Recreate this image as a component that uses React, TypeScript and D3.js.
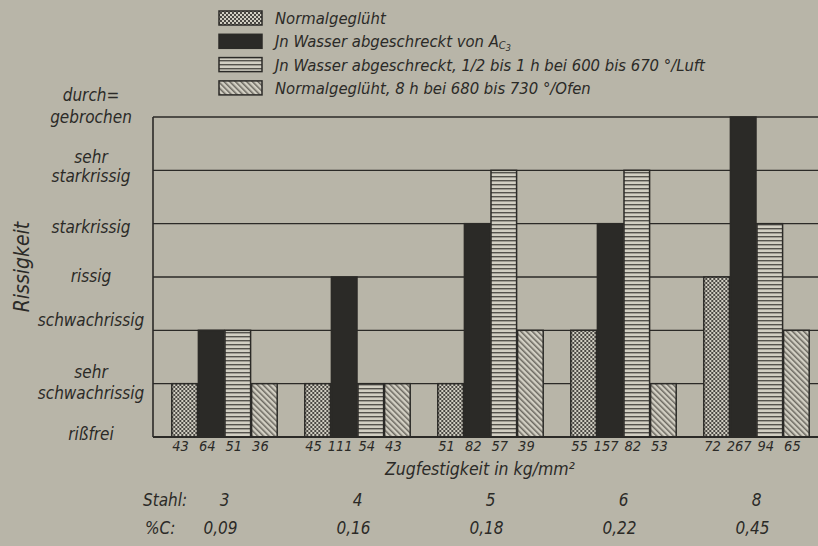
import React from "react";
import * as d3 from "d3";

const steels = ["3", "4", "5", "6", "8"];
const carbon = ["0,09", "0,16", "0,18", "0,22", "0,45"];
const seriesNames = [
  "Normalgeglüht",
  "Jn Wasser abgeschreckt von A",
  "Jn Wasser abgeschreckt, 1/2 bis 1 h bei 600 bis 670 °/Luft",
  "Normalgeglüht, 8 h bei 680 bis 730 °/Ofen",
];
const seriesKeys = ["norm", "quench", "temper", "anneal"];
// Rissigkeit level (0 = rißfrei ... 6 = durchgebrochen)
const normValues = [1, 1, 1, 2, 3];
const quenchValues = [2, 3, 4, 4, 6];
const temperValues = [2, 1, 5, 5, 4];
const annealValues = [1, 1, 2, 1, 2];
// Zugfestigkeit in kg/mm²
const normStrength = ["43", "45", "51", "55", "72"];
const quenchStrength = ["64", "111", "82", "157", "267"];
const temperStrength = ["51", "54", "57", "82", "94"];
const annealStrength = ["36", "43", "39", "53", "65"];
const levelLabels = [
  ["rißfrei"],
  ["sehr", "schwachrissig"],
  ["schwachrissig"],
  ["rissig"],
  ["starkrissig"],
  ["sehr", "starkrissig"],
  ["durch=", "gebrochen"],
];

const W = 818;
const H = 546;
const BG = "#b8b5a8";
const INK = "#2b2a27";
const LIGHT = "#d2cfc3";
const FONT = "'DejaVu Sans Condensed', 'DejaVu Sans', sans-serif";

export default function App() {
  const values = [normValues, quenchValues, temperValues, annealValues];
  const strengths = [normStrength, quenchStrength, temperStrength, annealStrength];
  const x0 = d3.scaleBand().domain(steels).range([158, 823]).paddingInner(0.2).paddingOuter(0.1);
  const x1 = d3.scaleBand().domain(seriesKeys).range([0, x0.bandwidth()]).padding(0);
  const y = d3.scaleLinear().domain([0, 6]).range([437, 117]);
  const left = 153;
  const right = W;
  const fills = ["url(#pNorm)", INK, "url(#pTemper)", "url(#pAnneal)"];

  const labelOffsets: Record<number, number[]> = {
    0: [-3],
    1: [-12, 9],
    2: [-10],
    3: [-1],
    4: [3],
    5: [-13, 6],
    6: [-22, 0],
  };

  return (
    <svg width={W} height={H} style={{ position: "absolute", left: 0, top: 0, background: BG }}>
      <defs>
        <pattern id="pNorm" width="4" height="4" patternUnits="userSpaceOnUse">
          <rect width="4" height="4" fill={LIGHT} />
          <rect x="0" y="0" width="2" height="2" fill="#4a4843" />
          <rect x="2" y="2" width="2" height="2" fill="#4a4843" />
        </pattern>
        <pattern id="pTemper" width="4" height="4" patternUnits="userSpaceOnUse">
          <rect width="4" height="4" fill={LIGHT} />
          <rect x="0" y="0" width="4" height="1.4" fill="#55534d" />
        </pattern>
        <pattern id="pAnneal" width="4" height="4" patternUnits="userSpaceOnUse" patternTransform="rotate(-45)">
          <rect width="4" height="4" fill={LIGHT} />
          <rect x="0" y="0" width="1.5" height="4" fill="#6a675f" />
        </pattern>
      </defs>

      {/* Legend */}
      {seriesNames.map((name, i) => {
        const cy = 18 + i * 23.3;
        return (
          <g key={name}>
            <rect x={219} y={cy - 7} width={43} height={14} fill={fills[i]} stroke={INK} strokeWidth={1.5} />
            <text x={275} y={cy + 6} fontFamily={FONT} fontStyle="italic" fontSize={16.5} fill={INK}>
              {name}
              {i === 1 ? (
                <tspan fontSize={11} dy={2}>
                  C
                  <tspan fontSize={9} dy={1.5}>3</tspan>
                </tspan>
              ) : null}
            </text>
          </g>
        );
      })}

      {/* grid */}
      {d3.range(1, 7).map((k) => (
        <line key={k} x1={left} x2={right} y1={y(k)} y2={y(k)} stroke={INK} strokeWidth={1.3} />
      ))}
      <line x1={left} x2={left} y1={y(6)} y2={y(0)} stroke={INK} strokeWidth={1.6} />

      {/* bars */}
      {steels.map((s, gi) => (
        <g key={s} transform={`translate(${x0(s)},0)`}>
          {seriesKeys.map((k, si) => {
            const v = values[si][gi];
            return (
              <rect
                key={k}
                x={(x1(k) as number) + 0.5}
                y={y(v)}
                width={x1.bandwidth() - 1}
                height={y(0) - y(v)}
                fill={fills[si]}
                stroke={INK}
                strokeWidth={1.5}
              />
            );
          })}
          {seriesKeys.map((k, si) => (
            <text
              key={"t" + k}
              x={(x1(k) as number) + x1.bandwidth() / 2 - 4}
              y={451}
              textAnchor="middle"
              fontFamily={FONT}
              fontStyle="italic"
              fontSize={14.5}
              fill={INK}
            >
              {strengths[si][gi]}
            </text>
          ))}
          <text x={x0.bandwidth() / 2} y={506} textAnchor="middle" fontFamily={FONT} fontStyle="italic" fontSize={17} fill={INK}>
            {s}
          </text>
          <text x={x0.bandwidth() / 2 - 4} y={534} textAnchor="middle" fontFamily={FONT} fontStyle="italic" fontSize={17} fill={INK}>
            {carbon[gi]}
          </text>
        </g>
      ))}
      <line x1={left} x2={right} y1={y(0)} y2={y(0)} stroke={INK} strokeWidth={2} />

      {/* y labels */}
      {levelLabels.map((lines, k) =>
        lines.map((ln, li) => (
          <text
            key={k + "-" + li}
            x={91}
            y={y(k) + labelOffsets[k][li] + 6}
            textAnchor="middle"
            fontFamily={FONT}
            fontStyle="italic"
            fontSize={17}
            fill={INK}
          >
            {ln}
          </text>
        ))
      )}
      <text
        transform={`translate(29,267) rotate(-90)`}
        textAnchor="middle"
        fontFamily={FONT}
        fontStyle="italic"
        fontSize={21}
        fill={INK}
      >
        Rissigkeit
      </text>

      <text x={480} y={475} textAnchor="middle" fontFamily={FONT} fontStyle="italic" fontSize={17.5} fill={INK}>
        Zugfestigkeit in kg/mm²
      </text>
      <text x={143} y={506} fontFamily={FONT} fontStyle="italic" fontSize={17} fill={INK}>
        Stahl:
      </text>
      <text x={145} y={534} fontFamily={FONT} fontStyle="italic" fontSize={17} fill={INK}>
        %C:
      </text>
    </svg>
  );
}
